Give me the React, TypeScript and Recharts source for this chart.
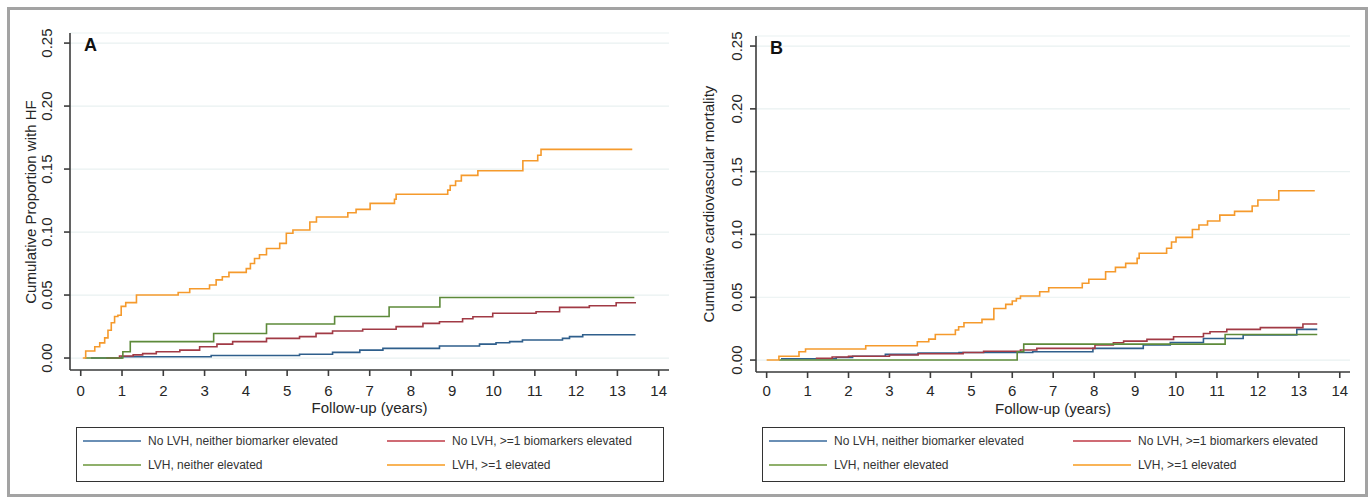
import { LineChart, Line, XAxis, YAxis, CartesianGrid } from 'recharts';

const years = [0, 1, 2, 3, 4, 5, 6, 7, 8, 9, 10, 11, 12, 13, 14];
const yTicks = [0, 0.05, 0.1, 0.15, 0.2, 0.25];

const seriesNames = [
  'No LVH, neither biomarker elevated',
  'No LVH, >=1 biomarkers elevated',
  'LVH, neither elevated',
  'LVH, >=1 elevated',
];
const lineColors = ['#2f5f8c', '#a13a45', '#5d8a3a', '#f59a2c'];
const legendColors = ['#6a8fb5', '#cf6b74', '#8fb06b', '#f9b457'];

// panel A: cumulative proportion with HF, [years, proportion]
const hfNoLvhNeither: [number, number][] = [
  [0.25, 0], [1.0, 0.001], [3.16, 0.002], [5.3, 0.003], [6.1, 0.0045], [6.76, 0.0063],
  [7.32, 0.0077], [8.69, 0.0095], [9.66, 0.011], [10.06, 0.0121], [10.39, 0.013],
  [10.7, 0.0143], [11.67, 0.0156], [11.84, 0.017], [12.16, 0.0185], [13.44, 0.0185],
];
const hfNoLvhElevated: [number, number][] = [
  [0.62, 0], [0.94, 0.0016], [1.27, 0.0025], [1.5, 0.0035], [1.83, 0.005], [2.4, 0.0063],
  [2.88, 0.009], [3.3, 0.011], [3.68, 0.013], [4.5, 0.0156], [5.3, 0.017], [5.7, 0.0196],
  [6.1, 0.0215], [6.83, 0.0228], [7.64, 0.0249], [8.29, 0.0275], [8.69, 0.0288],
  [9.25, 0.0312], [9.5, 0.0328], [9.98, 0.0355], [11.03, 0.0367], [11.6, 0.0402],
  [12.32, 0.0415], [12.97, 0.0439], [13.45, 0.0439],
];
const hfLvhNeither: [number, number][] = [
  [0.1, 0], [1.02, 0.005], [1.2, 0.013], [3.22, 0.0195], [4.5, 0.027], [6.15, 0.033],
  [7.47, 0.0405], [8.7, 0.048], [13.41, 0.048],
];
const hfLvhElevated: [number, number][] = [
  [0.05, 0], [0.12, 0.0056], [0.34, 0.009], [0.46, 0.012], [0.58, 0.016], [0.66, 0.022],
  [0.74, 0.028], [0.82, 0.033], [0.9, 0.034], [0.98, 0.041], [1.09, 0.044], [1.35, 0.05],
  [2.36, 0.052], [2.64, 0.055], [3.12, 0.058], [3.28, 0.062], [3.43, 0.0645], [3.59, 0.068],
  [4.01, 0.071], [4.11, 0.075], [4.21, 0.079], [4.33, 0.082], [4.5, 0.087], [4.82, 0.091],
  [4.98, 0.099], [5.14, 0.1016], [5.55, 0.108], [5.71, 0.112], [6.47, 0.1153], [6.67, 0.118],
  [7.01, 0.1228], [7.6, 0.126], [7.64, 0.13], [8.89, 0.1333], [8.95, 0.137], [9.08, 0.1405],
  [9.22, 0.145], [9.62, 0.1487], [10.71, 0.1566], [11.07, 0.161], [11.15, 0.1656],
  [13.36, 0.1656],
];

// panel B: cumulative cardiovascular mortality
const cvNoLvhNeither: [number, number][] = [
  [0.35, 0.001], [1.7, 0.002], [2.1, 0.003], [2.9, 0.0045], [3.7, 0.0055], [4.7, 0.006],
  [6.5, 0.0066], [7.97, 0.0093], [9.2, 0.012], [9.86, 0.014], [10.67, 0.0172],
  [11.64, 0.0199], [12.95, 0.0244], [13.45, 0.0244],
];
const cvNoLvhElevated: [number, number][] = [
  [1.2, 0.0015], [1.6, 0.0025], [2.0, 0.003], [3.0, 0.004], [3.7, 0.005], [4.8, 0.006],
  [5.3, 0.007], [6.2, 0.008], [6.6, 0.0093], [8.02, 0.012], [8.47, 0.0138], [8.72, 0.0151],
  [9.29, 0.0165], [9.94, 0.0186], [10.67, 0.0212], [10.83, 0.0226], [11.24, 0.0244],
  [12.06, 0.0258], [13.1, 0.0287], [13.45, 0.0287],
];
const cvLvhNeither: [number, number][] = [
  [0.3, 0], [6.12, 0.0066], [6.28, 0.0127], [11.2, 0.0204], [13.45, 0.0204],
];
const cvLvhElevated: [number, number][] = [
  [0, 0], [0.3, 0.003], [0.79, 0.0066], [0.95, 0.0088], [2.42, 0.0114], [3.68, 0.0146],
  [3.96, 0.0167], [4.12, 0.0204], [4.61, 0.0239], [4.69, 0.0265], [4.82, 0.0297],
  [5.26, 0.0324], [5.55, 0.041], [5.84, 0.0443], [6.0, 0.047], [6.1, 0.049], [6.2, 0.051],
  [6.67, 0.0544], [6.89, 0.0576], [7.71, 0.0611], [7.87, 0.0643], [8.28, 0.0703],
  [8.52, 0.0738], [8.77, 0.077], [9.05, 0.081], [9.1, 0.085], [9.77, 0.089], [9.89, 0.094],
  [10.0, 0.0977], [10.4, 0.104], [10.56, 0.1075], [10.77, 0.1107], [11.07, 0.1154],
  [11.43, 0.1184], [11.86, 0.1226], [12.0, 0.1274], [12.51, 0.1348], [13.39, 0.1348],
];

const FONT = '"Liberation Sans", Arial, sans-serif';
const TEXT = '#262626';
const AXIS = '#3c3c3c';

const toPoints = (steps: [number, number][]) => steps.map(([t, v]) => ({ t, v }));

type PanelProps = {
  left: number;
  width: number;
  margin: { top: number; right: number; bottom: number; left: number };
  letter: string;
  yLabel: string;
  yLabelX: number;
  tickOffset: number;
  xTickDy: number;
  xLabelTop: number;
  series: [number, number][][];
};

function Panel({ left, width, margin, letter, yLabel, yLabelX, tickOffset, xTickDy, xLabelTop, series }: PanelProps) {
  const height = 430;
  const plotLeft = left + margin.left + 40;
  const plotRight = left + width - margin.right;
  const plotTop = margin.top;
  const plotBottom = height - margin.bottom - 30;
  const midX = (plotLeft + plotRight) / 2;

  const yTick = (p: any) => (
    <text
      transform={`translate(${p.x - tickOffset},${p.y}) rotate(-90)`}
      textAnchor="middle"
      dominantBaseline="central"
      fontSize={15}
      fontFamily={FONT}
      fill={TEXT}
    >
      {p.payload.value.toFixed(2)}
    </text>
  );
  const xTick = (p: any) => (
    <text x={p.x} y={p.y + xTickDy} textAnchor="middle" dominantBaseline="central" fontSize={15} fontFamily={FONT} fill={TEXT}>
      {p.payload.value}
    </text>
  );

  return (
    <>
      <div style={{ position: 'absolute', left, top: 0 }}>
        <LineChart width={width} height={height} margin={margin}>
          <CartesianGrid vertical={false} stroke="#e9f1f1" strokeWidth={1.2} />
          <XAxis
            dataKey="t"
            type="number"
            domain={[-0.26, 14.25]}
            ticks={years}
            allowDataOverflow
            height={30}
            tickSize={6}
            tickMargin={2}
            tick={xTick}
            stroke={AXIS}
            strokeWidth={1.6}
          />
          <YAxis
            type="number"
            domain={[-0.0095, 0.258]}
            ticks={yTicks}
            allowDataOverflow
            width={40}
            tickSize={6}
            tickMargin={2}
            tick={yTick}
            stroke={AXIS}
            strokeWidth={1.6}
          />
          {series.map((s, i) => (
            <Line
              key={i}
              data={toPoints(s)}
              dataKey="v"
              type="stepAfter"
              stroke={lineColors[i]}
              strokeWidth={1.6}
              dot={false}
              activeDot={false}
              isAnimationActive={false}
            />
          ))}
        </LineChart>
      </div>
      <div
        style={{
          position: 'absolute', left: plotLeft + 14, top: plotTop + 2, fontFamily: FONT,
          fontWeight: 'bold', fontSize: 18, color: '#111',
        }}
      >
        {letter}
      </div>
      <div
        style={{
          position: 'absolute', left: yLabelX, top: (plotTop + plotBottom) / 2 - 12, width: 0, height: 0,
        }}
      >
        <div
          style={{
            position: 'absolute', transform: 'translate(-50%, 0) rotate(-90deg)', whiteSpace: 'nowrap',
            fontFamily: FONT, fontSize: 15, color: TEXT, lineHeight: '18px', top: 3,
          }}
        >
          {yLabel}
        </div>
      </div>
      <div
        style={{
          position: 'absolute', left: midX - 100, width: 200, top: xLabelTop, textAlign: 'center',
          fontFamily: FONT, fontSize: 15, color: TEXT, lineHeight: '18px',
        }}
      >
        Follow-up (years)
      </div>
      <div
        style={{
          position: 'absolute', left: plotLeft + 6, top: 427, width: plotRight - plotLeft - 11, height: 55,
          border: '1px solid #333', boxSizing: 'border-box', fontFamily: FONT, fontSize: 12, color: '#333',
        }}
      >
        {seriesNames.map((name, i) => (
          <div
            key={name}
            style={{
              position: 'absolute', left: i % 2 === 0 ? 6 : 310, top: i < 2 ? 4 : 28, height: 18,
              display: 'flex', alignItems: 'center', whiteSpace: 'nowrap',
            }}
          >
            <span style={{ display: 'inline-block', width: 58, height: 2, background: legendColors[i], marginRight: 7 }} />
            {name}
          </div>
        ))}
      </div>
    </>
  );
}

export default function App() {
  return (
    <div style={{ position: 'absolute', left: 0, top: 0, width: 1370, height: 502, background: '#fff' }}>
      <div
        style={{
          position: 'absolute', left: 7, top: 7, width: 1361, height: 490, border: '3px solid #a3a3a3',
          boxSizing: 'border-box',
        }}
      />
      <Panel
        left={0}
        width={700}
        margin={{ top: 33, right: 31, bottom: 30, left: 30 }}
        letter="A"
        yLabel="Cumulative Proportion with HF"
        yLabelX={31}
        tickOffset={16}
        xTickDy={12}
        xLabelTop={399}
        series={[hfNoLvhNeither, hfNoLvhElevated, hfLvhNeither, hfLvhElevated]}
      />
      <Panel
        left={686}
        width={684}
        margin={{ top: 36, right: 20, bottom: 28, left: 30 }}
        letter="B"
        yLabel="Cumulative cardiovascular mortality"
        yLabelX={709}
        tickOffset={12}
        xTickDy={10}
        xLabelTop={400}
        series={[cvNoLvhNeither, cvNoLvhElevated, cvLvhNeither, cvLvhElevated]}
      />
    </div>
  );
}
